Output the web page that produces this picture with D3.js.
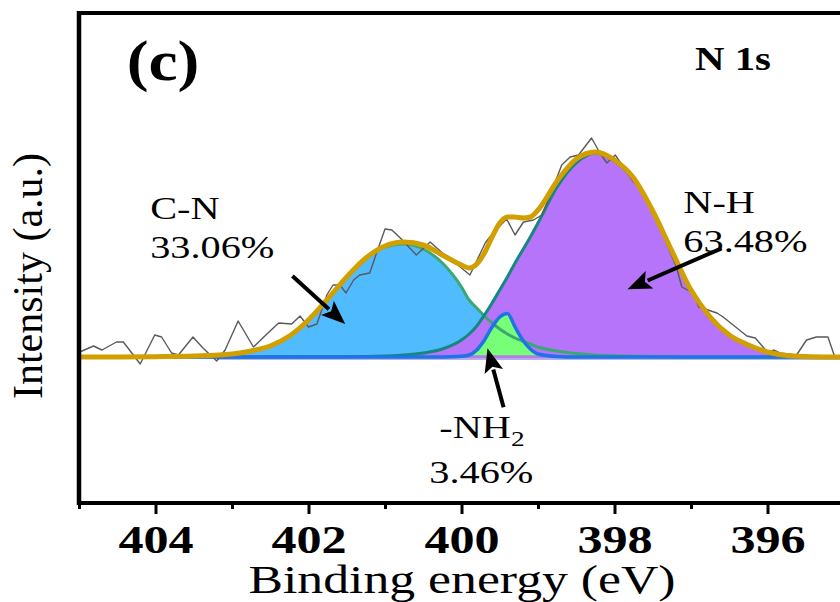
<!DOCTYPE html>
<html><head><meta charset="utf-8">
<script src="https://cdn.jsdelivr.net/npm/d3@7"></script>
<style>body{margin:0;background:#fff}svg{display:block}</style>
</head><body>
<svg id="chart" width="840" height="602"></svg>
<script>
// ---------- DATA ----------
const energyGrid = [405, 404.5, 404, 403.5, 403, 402.75, 402.5, 402.25, 402, 401.75, 401.5, 401.25, 401, 400.75, 400.5, 400.25, 400, 399.9, 399.8, 399.7, 399.6, 399.5, 399.4, 399.3, 399.2, 399.1, 399, 398.75, 398.5, 398.25, 398, 397.75, 397.5, 397.25, 397, 396.75, 396.5, 396.25, 396, 395.75, 395.5, 395.25, 395];
const cnValues  = [0, 0, 0.3, 1, 3, 6, 11, 21, 37, 58, 80, 99, 110, 113, 108, 94, 70, 57, 49, 41, 34, 28, 23, 19, 16, 13, 10, 6, 3.5, 2, 1.2, 0.7, 0.4, 0.2, 0, 0, 0, 0, 0, 0, 0, 0, 0];
const nhValues  = [0, 0, 0, 0, 0, 0, 0, 0, 0, 0, 0.2, 0.4, 1, 2, 4, 8, 17, 23, 31, 42, 54, 67, 80, 94, 107, 120, 134, 170, 194, 204, 196, 178, 146, 106, 67, 40, 22, 12, 5, 1.5, 0.5, 0.1, 0];
const nh2Values = [0, 0, 0, 0, 0, 0, 0, 0, 0, 0, 0, 0, 0, 0, 0, 0, 0.8, 2, 7, 17, 30, 40, 43.5, 30, 17, 8, 3, 0.5, 0, 0, 0, 0, 0, 0, 0, 0, 0, 0, 0, 0, 0, 0, 0];
const envelopeValues = [0, 0, 0.3, 1, 3, 6, 11, 21, 37, 58, 80, 99, 111, 115, 112, 102, 92, 89, 93, 104, 120, 134, 140, 140, 139, 140, 147, 176, 198, 205, 197, 179, 146, 106, 67, 40, 22, 12, 5, 1.5, 0.5, 0.1, 0];
const rawEnergy = [404.99, 404.81, 404.70, 404.51, 404.42, 404.20, 404.01, 403.92, 403.79, 403.70, 403.51, 403.38, 403.20, 403.09, 402.92, 402.72, 402.53, 402.39, 402.22, 402.11, 402.00, 401.89, 401.76, 401.68, 401.59, 401.51, 401.41, 401.33, 401.20, 401.11, 401.00, 400.91, 400.80, 400.59, 400.41, 400.19, 400.08, 399.89, 399.69, 399.61, 399.41, 399.30, 399.19, 399.06, 398.95, 398.80, 398.69, 398.58, 398.47, 398.30, 398.19, 398.10, 397.99, 397.75, 397.67, 397.54, 397.41, 397.30, 397.19, 397.12, 396.97, 396.90, 396.66, 396.58, 396.40, 396.27, 396.16, 395.99, 395.92, 395.84, 395.62, 395.49, 395.36, 395.21, 395.12];
const rawIntensity = [5, 11, 7, 15, 15, -7, 22, 20, 4, 2, 20, 9, -4, 7, 36, 10, 24, 34, 33, 41, 30, 33, 62, 72, 72, 64, 77, 82, 84, 104, 128, 127, 119, 102, 115, 100, 94, 82, 114, 122, 138, 122, 135, 137, 142, 170, 192, 200, 202, 219, 204, 194, 202, 175, 170, 149, 130, 110, 90, 70, 64, 50, 44, 40, 29, 21, 19, 4, 7, 4, 2, 17, 20, 20, 0];
const xTickValues = [404, 402, 400, 398, 396];
const xMinorTickValues = [405, 403, 401, 399, 397, 395];
const componentNames = ["C-N", "N-H", "-NH"];
const componentShares = ["33.06%", "63.48%", "3.46%"];
const panelLabel = "(c)";
const regionLabel = "N 1s";
const xTitle = "Binding energy (eV)";
const yTitle = "Intensity (a.u.)";

// ---------- LAYOUT ----------
const svg = d3.select("#chart");
const L = 79, R = 844, T = 13, B = 503;
const x = d3.scaleLinear().domain([405, 395]).range([L, R]);
const y = d3.scaleLinear().domain([-146, 344]).range([B, T]);
const FONT = "'Liberation Serif','Times New Roman',serif";

svg.append("defs").append("clipPath").attr("id", "plot")
  .append("rect").attr("x", L).attr("y", T).attr("width", 840 - L).attr("height", B - T);

const plot = svg.append("g").attr("clip-path", "url(#plot)");

const grid = energyGrid.map((e, i) => ({e, cn: cnValues[i], nh: nhValues[i], nh2: nh2Values[i], env: envelopeValues[i]}));
const curve = d3.curveMonotoneX;
const areaOf = k => d3.area().x(d => x(d.e)).y0(y(0)).y1(d => y(d[k])).curve(curve);
const lineOf = k => d3.line().x(d => x(d.e)).y(d => y(d[k])).curve(curve);

const comps = [
  {k: "cn", fill: "#50bbff", stroke: "#3aa874", w: 3},
  {k: "nh", fill: "#b574fa", stroke: "#14877f", w: 3},
  {k: "nh2", fill: "#77ff77", stroke: "#1f73e6", w: 3.5}
];
comps.forEach(c => plot.append("path").datum(grid).attr("d", areaOf(c.k)).attr("fill", c.fill));

// baseline strip
plot.append("line").attr("x1", x(403.2)).attr("x2", x(395)).attr("y1", y(0) + 2.5).attr("y2", y(0) + 2.5)
  .attr("stroke", "#a9b9e6").attr("stroke-width", 1.2);
plot.append("line").attr("x1", x(403.2)).attr("x2", x(395)).attr("y1", y(0)).attr("y2", y(0))
  .attr("stroke", "#b37de8").attr("stroke-width", 3.5);

comps.forEach(c => plot.append("path").datum(grid).attr("d", lineOf(c.k))
  .attr("fill", "none").attr("stroke", c.stroke).attr("stroke-width", c.w).attr("stroke-linejoin", "round"));

// raw data
const raw = rawEnergy.map((e, i) => ({e, v: rawIntensity[i]}));
plot.append("path").datum(raw)
  .attr("d", d3.line().x(d => x(d.e)).y(d => y(d.v)))
  .attr("fill", "none").attr("stroke", "#5a5a5a").attr("stroke-width", 1.4).attr("stroke-linejoin", "round");

// envelope
plot.append("path").datum(grid).attr("d", lineOf("env"))
  .attr("fill", "none").attr("stroke", "#d29f00").attr("stroke-width", 5).attr("stroke-linejoin", "round");

// ---------- FRAME & AXES ----------
svg.append("line").attr("x1", L - 2).attr("x2", 840).attr("y1", T).attr("y2", T).attr("stroke", "#000").attr("stroke-width", 4);
svg.append("line").attr("x1", L).attr("x2", L).attr("y1", T - 2).attr("y2", B + 2).attr("stroke", "#000").attr("stroke-width", 4.5);
svg.append("line").attr("x1", L - 2).attr("x2", 840).attr("y1", B).attr("y2", B).attr("stroke", "#000").attr("stroke-width", 4);

const majorAxis = svg.append("g").attr("transform", `translate(0,${B})`)
  .call(d3.axisBottom(x).tickValues(xTickValues).tickSize(11).tickFormat(d3.format("d")));
majorAxis.select(".domain").remove();
majorAxis.selectAll(".tick line").attr("stroke", "#000").attr("stroke-width", 3);
majorAxis.selectAll(".tick text")
  .attr("y", 0).attr("dy", 0)
  .attr("transform", "translate(0,50) scale(1.27,1)")
  .attr("font-family", FONT).attr("font-weight", "bold").attr("font-size", 39.5).attr("fill", "#000");
majorAxis.attr("font-family", null).attr("font-size", null);

const minorAxis = svg.append("g").attr("transform", `translate(0,${B})`)
  .call(d3.axisBottom(x).tickValues(xMinorTickValues).tickSize(6).tickFormat(""));
minorAxis.select(".domain").remove();
minorAxis.selectAll(".tick line").attr("stroke", "#000").attr("stroke-width", 3);

// ---------- TEXT ----------
function addText(px, py, str, size, weight, sx, anchor) {
  return svg.append("text")
    .attr("transform", `translate(${px},${py}) scale(${sx},1)`)
    .attr("font-family", FONT).attr("font-size", size).attr("font-weight", weight)
    .attr("text-anchor", anchor || "start").attr("fill", "#000").text(str);
}
addText(163, 80, panelLabel, 56, "bold", 1.17, "middle");
addText(733, 70, regionLabel, 34, "bold", 1.2, "middle");
addText(462, 593, xTitle, 39.5, "normal", 1.31, "middle");
svg.append("text").attr("transform", "translate(42,276) rotate(-90)")
  .attr("font-family", FONT).attr("font-size", 42).attr("text-anchor", "middle").attr("fill", "#000").text(yTitle);

// component labels (anchored in data coordinates)
addText(x(404.07), y(138), componentNames[0], 31, "normal", 1.3);
addText(x(404.07), y(99), componentShares[0], 31, "normal", 1.3);
addText(x(397.10), y(144), componentNames[1], 31, "normal", 1.3);
addText(x(397.10), y(105), componentShares[1], 31, "normal", 1.3);
const nh2Label = addText(x(400.29), y(-81), componentNames[2], 31, "normal", 1.3);
nh2Label.append("tspan").attr("font-size", 21).attr("dy", 8).text("2");
addText(x(400.42), y(-126), componentShares[2], 31, "normal", 1.3);

// arrows: [tailE, tailI, tipE, tipI]
const arrows = [
  [402.21, 81, 401.52, 33],
  [396.60, 108.7, 397.83, 67.7],
  [399.45, -50.3, 399.66, 8.7]
];
arrows.forEach(a => {
  const x1 = x(a[0]), y1 = y(a[1]), x2 = x(a[2]), y2 = y(a[3]);
  const dx = x2 - x1, dy = y2 - y1, len = Math.hypot(dx, dy);
  const ux = dx / len, uy = dy / len, hl = 24, hw = 9.5;
  const bx = x2 - ux * hl, by = y2 - uy * hl;
  svg.append("line").attr("x1", x1).attr("y1", y1).attr("x2", bx + ux * 2).attr("y2", by + uy * 2)
    .attr("stroke", "#000").attr("stroke-width", 4);
  svg.append("path")
    .attr("d", `M${x2},${y2}L${bx - uy * hw},${by + ux * hw}L${bx + ux * 5},${by + uy * 5}L${bx + uy * hw},${by - ux * hw}Z`)
    .attr("fill", "#000");
});
</script>
</body></html>
